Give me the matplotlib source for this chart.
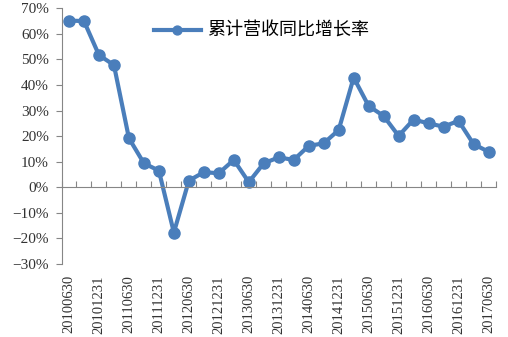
import numpy as np
import matplotlib.pyplot as plt
from matplotlib.ticker import FixedLocator, PercentFormatter

plt.rcParams['font.family'] = ['Liberation Serif', 'Noto Sans CJK SC', 'DejaVu Sans']

# quarterly cumulative revenue growth, 2010Q2 .. 2017Q2
quarters = ['20100630', '20100930', '20101231', '20110331', '20110630', '20110930',
            '20111231', '20120331', '20120630', '20120930', '20121231', '20130331',
            '20130630', '20130930', '20131231', '20140331', '20140630', '20140930',
            '20141231', '20150331', '20150630', '20150930', '20151231', '20160331',
            '20160630', '20160930', '20161231', '20170331', '20170630']
growth = [65.2, 65.0, 51.7, 47.8, 19.2, 9.4, 6.5, -17.7, 2.6, 5.9, 5.5, 10.7,
          2.0, 9.4, 11.7, 10.7, 16.2, 17.2, 22.4, 42.9, 31.8, 27.9, 20.1, 26.5,
          25.0, 23.7, 26.0, 16.9, 13.9]
series_name = '累计营收同比增长率'

blue = '#4A7EBB'
grey = '#868686'

fig = plt.figure(figsize=(5.08, 3.37), dpi=100)
ax = fig.add_axes([61.5 / 508, 73 / 337, (496 - 61.5) / 508, (328.7 - 73) / 337])

x = np.arange(len(quarters))
ax.plot(x, growth, color=blue, lw=3, marker='o', ms=8, label=series_name,
        solid_joinstyle='round')

ax.set_xlim(-0.5, len(quarters) - 0.5)
ax.set_ylim(-30, 70)
ax.set_yticks(np.arange(-30, 71, 10))
ax.yaxis.set_major_formatter(PercentFormatter(decimals=0))
ax.tick_params(axis='y', direction='out', length=4, color=grey, labelsize=11,
               labelcolor='#333333', pad=5)

for s in ['top', 'right']:
    ax.spines[s].set_visible(False)
ax.spines['left'].set_color(grey)
ax.spines['bottom'].set_color(grey)
ax.spines['bottom'].set_position(('data', 0))

# category boundary ticks on the zero line
ax.xaxis.set_major_locator(FixedLocator(np.arange(-0.5, len(quarters), 1)))
ax.tick_params(axis='x', direction='in', length=4, color=grey, labelbottom=False)

# labels at the bottom, every other quarter
sec = ax.secondary_xaxis('bottom')
sec.set_xticks(x[::2])
sec.set_xticklabels(quarters[::2], rotation=90, fontsize=10.5, color='#333333')
sec.tick_params(length=0, pad=8)
sec.spines['bottom'].set_visible(False)

ax.legend(loc='upper left', bbox_to_anchor=(0.175, 1.01), frameon=False,
          handlelength=2.6, handletextpad=0.35, markerscale=0.8,
          prop={'family': ['Noto Sans CJK SC'], 'size': 13})

fig.savefig('out.png', dpi=100)
